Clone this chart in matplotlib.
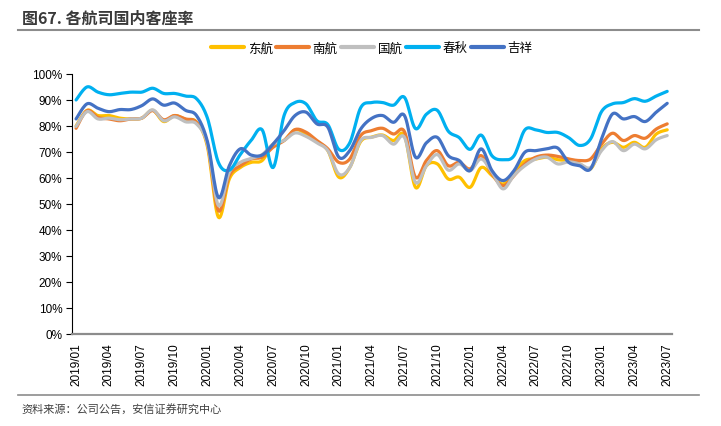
import numpy as np
import matplotlib
matplotlib.use('Agg')
import matplotlib.pyplot as plt
from matplotlib.ticker import FixedLocator, PercentFormatter

plt.rcParams['font.family'] = ['Liberation Sans', 'Noto Sans CJK SC', 'DejaVu Sans']

# monthly, 2019/01 .. 2023/07
months = ['%d/%02d' % (2019 + i // 12, i % 12 + 1) for i in range(55)]

eastern = [80, 86, 84, 84, 83, 82.7, 83, 86, 81.7, 84, 82.5, 81.5,
           72, 44.9, 59.6, 64, 66, 66.7, 73, 74.4, 78.5, 77, 74, 70.5,
           60.3, 64, 74, 75.7, 76.5, 74.4, 76.3, 56.4, 64.7, 65.4, 59.6, 60.3,
           56.4, 64, 60.9, 57.7, 62.2, 66.7, 67.3, 68, 67, 66.7, 65.4, 63.5,
           71.2, 73.7, 71.8, 73.7, 71.8, 76.9, 78.5]
southern = [79.1, 85.9, 83.3, 82.7, 82, 82.7, 83, 85.9, 82.4, 84, 82.7, 81.4,
            73, 47.4, 60.9, 64.7, 67.3, 68, 71.8, 74.4, 78.6, 77.6, 74.4, 71.2,
            66, 67.3, 76.3, 78.2, 79.1, 76.9, 77.8, 60.3, 66.7, 70.5, 64.7, 66,
            63.5, 68.6, 61.5, 57, 60.9, 65.4, 68, 68.8, 68.3, 67.3, 66.7, 67.3,
            73, 77.2, 74.4, 76.3, 75.3, 78.8, 80.8]
airchina = [79.8, 85.5, 82.7, 83, 82.4, 82.7, 83, 86.2, 82, 83.5, 81.6, 80.8,
            73, 49.4, 62.2, 66, 67.5, 69, 73, 74.4, 77.3, 76, 73.5, 70.5,
            61.5, 64, 74.4, 75.6, 76.3, 73, 75.6, 58.3, 64.7, 69, 63, 65.4,
            62.8, 67.3, 62.2, 55.8, 61, 64.7, 67.3, 68, 65.4, 66.2, 65.4, 64,
            70.5, 74, 70.5, 73, 71.2, 74.7, 76.3]
springair = [90, 95, 93, 92, 92.5, 93, 93, 94.5, 92.5, 92.5, 91.5, 90.5,
             83, 66, 63, 69, 74.5, 78.5, 64, 84, 89, 88.5, 82, 80.5,
             71, 73.5, 87, 89, 89, 88, 91, 79, 84.5, 86, 78, 75.5,
             71, 76.5, 68.5, 67, 68.5, 78.5, 78.5, 77.5, 77.5, 75.5, 72.5, 75,
             85.5, 88.5, 89, 90.5, 89.5, 91.5, 93.3]
juneyao = [82.7, 88.5, 86.8, 85.5, 86.3, 86.3, 87.8, 90.4, 88, 88.8, 86, 84,
           74, 52.5, 64.7, 71.2, 68.8, 68.8, 73, 78.2, 84, 85.3, 80.8, 79.5,
           68, 70.5, 78.8, 82.9, 84, 81.4, 84, 68, 73.5, 75.6, 68.6, 66.7,
           62.8, 71.2, 62.8, 59, 62.8, 69.9, 70.5, 71.2, 71.5, 66, 64.7, 63.5,
           75, 84.6, 82.7, 83.6, 81.7, 85.3, 88.7]

names = ['东航', '南航', '国航', '春秋', '吉祥']
colors = ['#FFC000', '#ED7D31', '#BFBFBF', '#00B0F0', '#4472C4']


def smooth(y, n=12):
    # Excel-like smoothed line (Catmull-Rom through the points)
    x = np.arange(len(y), dtype=float)
    y = np.asarray(y, dtype=float)
    px = np.concatenate([[x[0]], x, [x[-1]]])
    py = np.concatenate([[y[0]], y, [y[-1]]])
    t = np.linspace(0, 1, n, endpoint=False)
    xs, ys = [], []
    for i in range(len(y) - 1):
        p0, p1, p2, p3 = i, i + 1, i + 2, i + 3
        for arr, out in ((px, xs), (py, ys)):
            b0 = arr[p1]
            b1 = arr[p1] + (arr[p2] - arr[p0]) / 6
            b2 = arr[p2] - (arr[p3] - arr[p1]) / 6
            b3 = arr[p2]
            out.append((1 - t)**3 * b0 + 3 * (1 - t)**2 * t * b1
                       + 3 * (1 - t) * t**2 * b2 + t**3 * b3)
    xs = np.concatenate(xs + [[x[-1]]])
    ys = np.concatenate(ys + [[y[-1]]])
    return xs, ys


fig = plt.figure(figsize=(7.21, 4.27), dpi=100)
ax = fig.add_axes([0.0999, 0.2155, 0.832, 0.609])

for data, name, c in zip([eastern, southern, airchina, springair, juneyao], names, colors):
    sx, sy = smooth(data)
    ax.plot(sx, sy, color=c, lw=2.3, label=name, solid_capstyle='round')

ax.set_xlim(-0.37, 54.43)
ax.set_ylim(0, 100)
ax.yaxis.set_major_locator(FixedLocator(range(0, 101, 10)))
ax.yaxis.set_major_formatter(PercentFormatter(decimals=0))
ax.set_xticks(range(0, 55, 3))
ax.set_xticklabels(months[::3], rotation=90)
ax.tick_params(axis='x', length=0, pad=6, labelsize=8.5, colors='#000000')
ax.tick_params(axis='y', length=4, width=0.8, direction='out', pad=3, labelsize=8.5)

for s in ['top', 'right']:
    ax.spines[s].set_visible(False)
ax.spines['left'].set_color('#000000')
ax.spines['left'].set_linewidth(0.8)
ax.spines['bottom'].set_color('#8c8c8c')
ax.spines['bottom'].set_linewidth(1.6)

leg = ax.legend(loc='center', bbox_to_anchor=(0.5, 1.1), ncol=5, frameon=False,
                fontsize=9, handlelength=2.6, handletextpad=0.3, columnspacing=0.3,
                prop={'family': ['Noto Sans CJK SC', 'DejaVu Sans'], 'size': 9})
for line in leg.get_lines():
    line.set_linewidth(3)

fig.text(0.03, 0.957, '图67. 各航司国内客座率', fontsize=11.5, fontweight='bold',
         color='#3a3a3a', family=['Noto Sans CJK SC', 'DejaVu Sans'], va='center')
fig.add_artist(plt.Line2D([0.025, 0.97], [0.928, 0.928], color='#8c8c8c', lw=1.5))
fig.add_artist(plt.Line2D([0.025, 0.97], [0.072, 0.072], color='#8c8c8c', lw=1.2))
fig.text(0.03, 0.042, '资料来源：公司公告，安信证券研究中心', fontsize=8,
         color='#404040', family=['Noto Sans CJK SC', 'DejaVu Sans'], va='center')

fig.savefig('out.png', dpi=100)
